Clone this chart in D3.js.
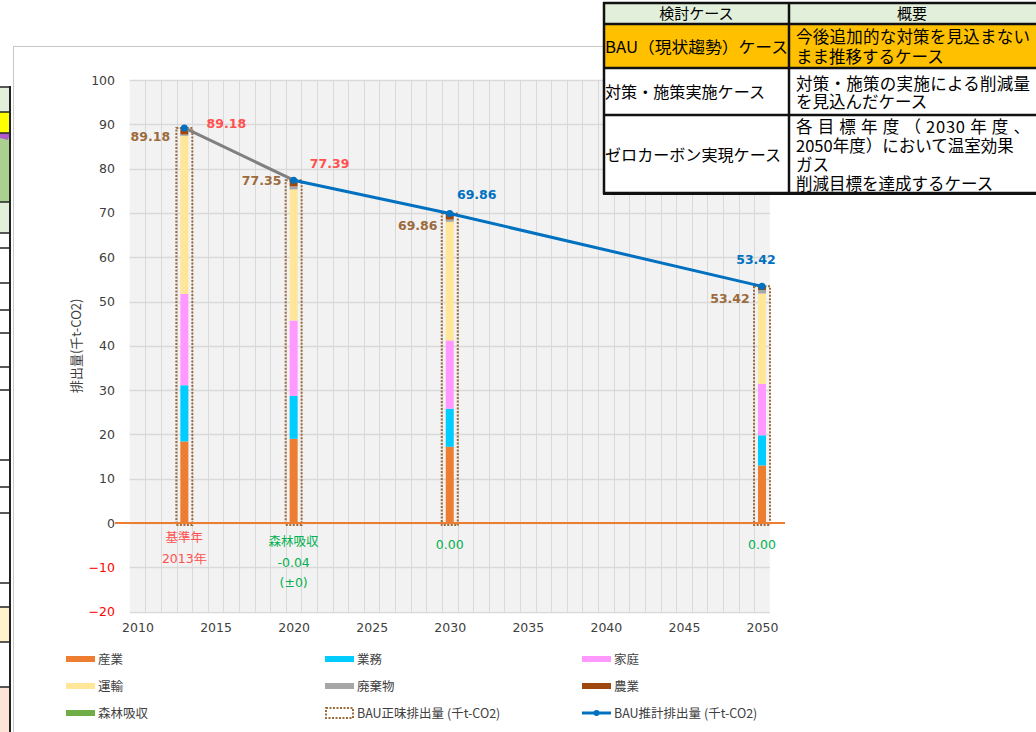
<!DOCTYPE html>
<html>
<head>
<meta charset="utf-8">
<script src="https://cdn.jsdelivr.net/npm/d3@7"></script>
<style>
  body { margin: 0; background: #fff; }
  svg { display: block; }
</style>
</head>
<body>
<div id="chart"></div>
<script>
// years of the stacked bars
var years = [2013, 2020, 2030, 2050];

// sector emissions (千t-CO2)
var sectorNames = ["産業", "業務", "家庭", "運輸", "廃棄物", "農業"];
var sangyo = [18.4, 19.0, 17.2, 13.0];
var gyomu = [12.7, 9.7, 8.6, 6.8];
var katei = [20.6, 17.0, 15.4, 11.6];
var unyu = [35.7, 29.6, 26.8, 20.4];
var haikibutsu = [0.3, 0.7, 0.5, 0.8];
var nogyo = [1.48, 1.35, 1.36, 0.82];
var shinrin = [0, -0.04, 0, 0];

// BAU totals
var bauNet = [89.18, 77.35, 69.86, 53.42];
var bauEst = [89.18, 77.39, 69.86, 53.42];

// axis ticks
var xTicks = [2010, 2015, 2020, 2025, 2030, 2035, 2040, 2045, 2050];
var yTicks = [-20, -10, 0, 10, 20, 30, 40, 50, 60, 70, 80, 90, 100];

// notes under the zero line
var baseNote = ["基準年", "2013年"];
var forestNote = ["森林吸収", "(±0)"];

// legend
var legendNames = ["産業", "業務", "家庭", "運輸", "廃棄物", "農業", "森林吸収",
  "BAU正味排出量 (千t-CO2)", "BAU推計排出量 (千t-CO2)"];

// case table
var tableHead = ["検討ケース", "概要"];
var tableCases = ["BAU（現状趨勢）ケース", "対策・施策実施ケース", "ゼロカーボン実現ケース"];
var tableDesc = [
  ["今後追加的な対策を見込まない", "まま推移するケース"],
  ["対策・施策の実施による削減量", "を見込んだケース"],
  ["各 目 標 年 度 （ 2030 年 度 、", "2050年度）において温室効果", "ガス", "削減目標を達成するケース"]
];

var colors = {
  "産業": "#ed7d31", "業務": "#00ccff", "家庭": "#ff99ff", "運輸": "#ffe699",
  "廃棄物": "#a6a6a6", "農業": "#9e480e", "森林吸収": "#70ad47"
};
var brown = "#9c6b3c";
var blue = "#0070c0";
var numFont = "DejaVu Sans, Verdana, sans-serif";
var jpFont = "'Noto Sans CJK JP', sans-serif";

var svgWidth = 1036;
var svgHeight = 732;

var svg = d3.select("#chart")
  .append("svg")
  .attr("width", svgWidth)
  .attr("height", svgHeight);

// chart frame
svg.append("rect")
  .attr("x", 13.5).attr("y", 46.5)
  .attr("width", 1040).attr("height", 700)
  .attr("fill", "#fff")
  .attr("stroke", "#c8c8c8");

// scales
var xScale = d3.scaleLinear().domain([2009.5, 2050.5]).range([129.7, 769.8]);
var yScale = d3.scaleLinear().domain([-20, 100]).range([611.6, 80]);

var chart = svg.append("g");

// plot background
chart.append("rect")
  .attr("x", xScale(2009.5)).attr("y", yScale(100))
  .attr("width", xScale(2050.5) - xScale(2009.5))
  .attr("height", yScale(-20) - yScale(100))
  .attr("fill", "#f2f2f2");

// vertical grid at every year boundary
chart.selectAll(".vgrid")
  .data(d3.range(2010.5, 2050.5, 1))
  .enter().append("line")
  .attr("x1", function(d) { return Math.round(xScale(d)) + 0.5; })
  .attr("x2", function(d) { return Math.round(xScale(d)) + 0.5; })
  .attr("y1", yScale(100)).attr("y2", yScale(-20))
  .attr("stroke", "#d9d9d9");

// horizontal grid
chart.selectAll(".hgrid")
  .data(yTicks)
  .enter().append("line")
  .attr("x1", xScale(2009.5)).attr("x2", xScale(2050.5))
  .attr("y1", function(d) { return Math.round(yScale(d)) + 0.5; })
  .attr("y2", function(d) { return Math.round(yScale(d)) + 0.5; })
  .attr("stroke", "#d9d9d9")
  .attr("stroke-width", 1.5);

// y axis labels
var leftAxis = d3.axisLeft(yScale).tickValues(yTicks).tickSize(0).tickPadding(0);
var yAxis = chart.append("g")
  .attr("transform", "translate(115,0)")
  .call(leftAxis);
yAxis.select(".domain").remove();
yAxis.selectAll("text")
  .attr("font-family", numFont)
  .attr("font-size", 12.5)
  .attr("fill", function(d) { return d < 0 ? "#ff0000" : "#404040"; });

// x axis labels
var bottomAxis = d3.axisBottom(xScale).tickValues(xTicks).tickFormat(d3.format("d")).tickSize(0).tickPadding(0);
var xAxis = chart.append("g")
  .attr("transform", "translate(0,623)")
  .call(bottomAxis);
xAxis.select(".domain").remove();
xAxis.selectAll("text")
  .attr("font-family", numFont)
  .attr("font-size", 12.5)
  .attr("fill", "#404040");

// y axis title
chart.append("text")
  .attr("transform", "translate(81," + yScale(40) + ") rotate(-90)")
  .attr("text-anchor", "middle")
  .attr("font-family", jpFont)
  .attr("font-size", 13)
  .attr("fill", "#404040")
  .text("排出量(千t-CO2)");

// stacked bars
var rows = years.map(function(y, i) {
  return { year: y, "産業": sangyo[i], "業務": gyomu[i], "家庭": katei[i],
    "運輸": unyu[i], "廃棄物": haikibutsu[i], "農業": nogyo[i] };
});
var stacked = d3.stack().keys(sectorNames)(rows);
var barW = 8;

chart.selectAll(".layer")
  .data(stacked)
  .enter().append("g")
  .attr("fill", function(d) { return colors[d.key]; })
  .selectAll("rect")
  .data(function(d) { return d; })
  .enter().append("rect")
  .attr("x", function(d) { return xScale(d.data.year) - barW / 2; })
  .attr("y", function(d) { return yScale(d[1]); })
  .attr("width", barW)
  .attr("height", function(d) { return yScale(d[0]) - yScale(d[1]); });

// forest absorption (negative)
chart.selectAll(".forest")
  .data(shinrin)
  .enter().append("rect")
  .attr("x", function(d, i) { return xScale(years[i]) - barW / 2; })
  .attr("y", yScale(0))
  .attr("width", barW)
  .attr("height", function(d) { return yScale(d) - yScale(0); })
  .attr("fill", colors["森林吸収"]);

// BAU net emissions (dotted outline)
chart.selectAll(".net")
  .data(bauNet)
  .enter().append("rect")
  .attr("x", function(d, i) { return xScale(years[i]) - 8; })
  .attr("y", function(d) { return yScale(d); })
  .attr("width", 16)
  .attr("height", function(d) { return yScale(0) - yScale(d) + 2; })
  .attr("fill", "none")
  .attr("stroke", brown)
  .attr("stroke-width", 2)
  .attr("stroke-dasharray", "2,1.5");

// zero line
chart.append("line")
  .attr("x1", 115).attr("x2", 785)
  .attr("y1", yScale(0)).attr("y2", yScale(0))
  .attr("stroke", "#ed7d31")
  .attr("stroke-width", 2);

// BAU estimate line: first segment grey, rest blue
var pts = years.map(function(y, i) { return [xScale(y), yScale(bauEst[i])]; });
var line = d3.line();
chart.append("path")
  .attr("d", line(pts.slice(0, 2)))
  .attr("fill", "none").attr("stroke", "#808080").attr("stroke-width", 3);
chart.append("path")
  .attr("d", line(pts.slice(1)))
  .attr("fill", "none").attr("stroke", blue).attr("stroke-width", 3);
chart.selectAll(".dot")
  .data(pts)
  .enter().append("circle")
  .attr("cx", function(d) { return d[0]; })
  .attr("cy", function(d) { return d[1]; })
  .attr("r", 3.5)
  .attr("fill", blue);

// value labels
var estColors = ["#ff5050", "#ff5050", blue, blue];
var estOffset = [[42, 0], [36, -12], [27, -15], [-6, -22]];
var netOffset = [[-34, 13], [-32, 5], [-32, 16], [-32, 17]];

chart.selectAll(".estLabel")
  .data(bauEst)
  .enter().append("text")
  .attr("x", function(d, i) { return xScale(years[i]) + estOffset[i][0]; })
  .attr("y", function(d, i) { return yScale(d) + estOffset[i][1]; })
  .attr("text-anchor", "middle")
  .attr("font-family", numFont)
  .attr("font-size", 12.5)
  .attr("font-weight", "bold")
  .attr("fill", function(d, i) { return estColors[i]; })
  .text(function(d) { return d.toFixed(2); });

chart.selectAll(".netLabel")
  .data(bauNet)
  .enter().append("text")
  .attr("x", function(d, i) { return xScale(years[i]) + netOffset[i][0]; })
  .attr("y", function(d, i) { return yScale(d) + netOffset[i][1]; })
  .attr("text-anchor", "middle")
  .attr("font-family", numFont)
  .attr("font-size", 12.5)
  .attr("font-weight", "bold")
  .attr("fill", brown)
  .text(function(d) { return d.toFixed(2); });

// notes under zero line
var red = "#ff5050";
var green = "#00b050";
chart.append("text")
  .attr("x", xScale(2013)).attr("y", 542)
  .attr("text-anchor", "middle").attr("font-family", jpFont)
  .attr("font-size", 12.5).attr("fill", red)
  .text(baseNote[0]);
chart.append("text")
  .attr("x", xScale(2013)).attr("y", 563)
  .attr("text-anchor", "middle").attr("font-family", numFont)
  .attr("font-size", 12.5).attr("fill", red)
  .text(baseNote[1]);

chart.append("text")
  .attr("x", xScale(2020)).attr("y", 546)
  .attr("text-anchor", "middle").attr("font-family", jpFont)
  .attr("font-size", 12.5).attr("fill", green)
  .text(forestNote[0]);

chart.selectAll(".forestVal")
  .data(shinrin)
  .enter().append("text")
  .attr("x", function(d, i) { return xScale(years[i]); })
  .attr("y", function(d, i) { return i === 1 ? 567 : (i === 0 ? -100 : 549); })
  .attr("text-anchor", "middle").attr("font-family", numFont)
  .attr("font-size", 12.5).attr("fill", green)
  .text(function(d, i) { return i === 0 ? "" : d.toFixed(2); });

chart.append("text")
  .attr("x", xScale(2020)).attr("y", 587)
  .attr("text-anchor", "middle").attr("font-family", numFont)
  .attr("font-size", 12.5).attr("fill", green)
  .text(forestNote[1]);

// legend
var legendX = [66, 325, 582];
var legendY = [659, 686, 713];
var legend = chart.selectAll(".legend")
  .data(legendNames)
  .enter().append("g")
  .attr("transform", function(d, i) {
    return "translate(" + legendX[i % 3] + "," + legendY[Math.floor(i / 3)] + ")";
  });

legend.each(function(d, i) {
  var g = d3.select(this);
  if (i < 7) {
    g.append("rect")
      .attr("x", 0).attr("y", -3)
      .attr("width", 29).attr("height", 6)
      .attr("fill", colors[d]);
  } else if (i === 7) {
    g.append("rect")
      .attr("x", 1).attr("y", -5)
      .attr("width", 27).attr("height", 10)
      .attr("fill", "none")
      .attr("stroke", brown)
      .attr("stroke-width", 2)
      .attr("stroke-dasharray", "2,1.5");
  } else {
    g.append("line")
      .attr("x1", 0).attr("x2", 29)
      .attr("y1", 0).attr("y2", 0)
      .attr("stroke", blue).attr("stroke-width", 3);
    g.append("circle")
      .attr("cx", 14.5).attr("cy", 0).attr("r", 3)
      .attr("fill", blue);
  }
  g.append("text")
    .attr("x", 32).attr("y", 4.5)
    .attr("font-family", jpFont)
    .attr("font-size", 12.5)
    .attr("fill", "#404040")
    .text(d);
});

// sheet fragment on the left edge
var edge = svg.append("g");
var edgeFills = [[87, 112, "#e2efda"], [112, 133, "#ffff00"], [133, 202, "#a9d08e"],
  [202, 233, "#e2efda"], [607, 642, "#fff2cc"], [687, 732, "#fce4d6"]];
edgeFills.forEach(function(f) {
  edge.append("rect").attr("x", 0).attr("y", f[0])
    .attr("width", 10).attr("height", f[1] - f[0]).attr("fill", f[2]);
});
edge.append("path").attr("d", "M0,133 L10,133 L8,140 L0,138 Z").attr("fill", "#b05cc8");
[87, 112, 133, 202, 233, 248, 283, 310, 333, 367, 390, 460, 487, 513, 583, 607, 642, 687].forEach(function(y) {
  edge.append("line").attr("x1", 0).attr("x2", 10).attr("y1", y).attr("y2", y)
    .attr("stroke", "#222").attr("stroke-width", 1.5);
});
edge.append("line").attr("x1", 10).attr("x2", 10).attr("y1", 86).attr("y2", 732)
  .attr("stroke", "#222").attr("stroke-width", 2);

// case table on the top right
var table = svg.append("g");
var tx0 = 604, tx1 = 789, tx2 = 1040;
var ty = [3, 24, 68, 115, 193];
var rowFill = ["#e2efda", "#ffc000", "#ffffff", "#ffffff"];
rowFill.forEach(function(c, i) {
  table.append("rect").attr("x", tx0).attr("y", ty[i])
    .attr("width", tx2 - tx0).attr("height", ty[i + 1] - ty[i]).attr("fill", c);
});
ty.forEach(function(y) {
  table.append("line").attr("x1", tx0 - 1).attr("x2", tx2).attr("y1", y).attr("y2", y)
    .attr("stroke", "#111").attr("stroke-width", 2.5);
});
[tx0, tx1].forEach(function(x) {
  table.append("line").attr("x1", x).attr("x2", x).attr("y1", ty[0] - 1).attr("y2", ty[4] + 1)
    .attr("stroke", "#111").attr("stroke-width", 2.5);
});

table.append("text").attr("x", (tx0 + tx1) / 2).attr("y", 19)
  .attr("text-anchor", "middle").attr("font-family", jpFont).attr("font-size", 15)
  .text(tableHead[0]);
table.append("text").attr("x", 912).attr("y", 19)
  .attr("text-anchor", "middle").attr("font-family", jpFont).attr("font-size", 15)
  .text(tableHead[1]);

var caseY = [53, 98, 161];
var caseLen = [183, 160, 176];
tableCases.forEach(function(t, i) {
  table.append("text").attr("x", 605).attr("y", caseY[i])
    .attr("font-family", jpFont).attr("font-size", 16)
    .attr("textLength", caseLen[i]).attr("lengthAdjust", "spacingAndGlyphs")
    .text(t);
});

var descY = [[43, 63], [90, 108], [133, 152, 171, 190]];
var descLen = [[234, 0], [234, 0], [234, 0, 0, 0]];
tableDesc.forEach(function(lines, i) {
  lines.forEach(function(t, j) {
    var el = table.append("text").attr("x", 796).attr("y", descY[i][j])
      .attr("font-family", jpFont).attr("font-size", 16.5)
      .text(t);
    if (descLen[i][j]) el.attr("textLength", descLen[i][j]).attr("lengthAdjust", "spacing");
  });
});
// bottom border redrawn over the clipped last line
table.append("rect").attr("x", tx0 - 1).attr("y", 192).attr("width", tx2 - tx0 + 2).attr("height", 3)
  .attr("fill", "#111");
</script>
</body>
</html>
